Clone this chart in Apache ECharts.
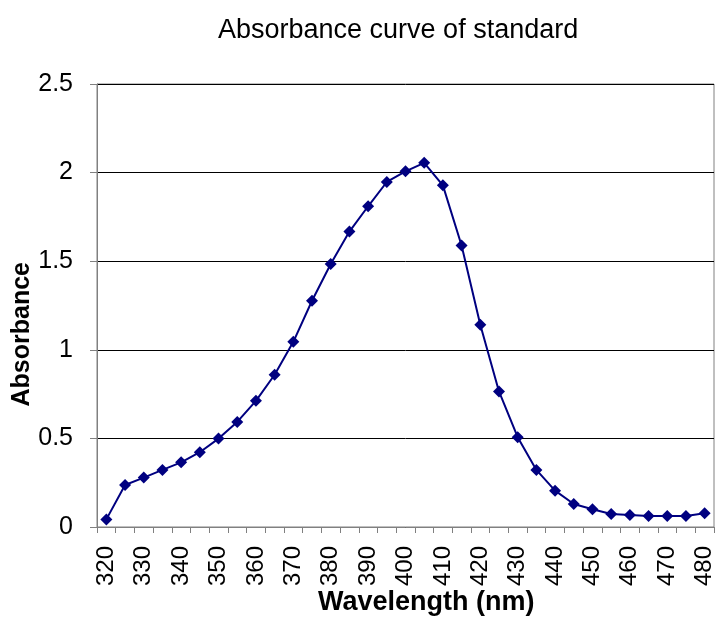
<!DOCTYPE html>
<html>
<head>
<meta charset="utf-8">
<script src="https://cdn.jsdelivr.net/npm/echarts@6/dist/echarts.min.js"></script>
<style>html,body{margin:0;padding:0;background:#fff}#c{width:719px;height:621px}</style>
</head>
<body>
<div id="c"></div>
<script>
var wavelengths = ['320','325','330','335','340','345','350','355','360','365','370','375','380','385','390','395','400','405','410','415','420','425','430','435','440','445','450','455','460','465','470','475','480'];
var absorbance = [0.043,0.237,0.279,0.322,0.365,0.422,0.499,0.593,0.712,0.859,1.045,1.277,1.484,1.667,1.81,1.947,2.007,2.055,1.928,1.589,1.141,0.765,0.507,0.322,0.205,0.13,0.1,0.073,0.068,0.062,0.062,0.062,0.077];
var yTicks = {min: 0, max: 2.5, interval: 0.5};
var titleText = 'Absorbance curve of standard';
var xName = 'Wavelength (nm)';
var yName = 'Absorbance';

var chart = echarts.init(document.getElementById('c'), null, {renderer: 'canvas'});
var font = '"Liberation Sans", Arial, sans-serif';
chart.setOption({
  animation: false,
  backgroundColor: '#fff',
  title: {text: titleText, left: 213, top: 12, textStyle: {fontFamily: font, fontSize: 27, fontWeight: 'normal', color: '#000'}},
  grid: {left: 97, right: 5, top: 84, bottom: 94, show: true, borderColor: '#808080', borderWidth: 1},
  xAxis: {
    type: 'category', data: wavelengths, boundaryGap: true,
    axisLine: {lineStyle: {color: '#808080', width: 1}},
    axisTick: {show: true, interval: 0, length: 6, lineStyle: {color: '#808080'}},
    axisLabel: {interval: 1, rotate: 90, margin: 19, fontFamily: font, fontSize: 24, color: '#000'},
    splitLine: {show: false}
  },
  yAxis: {
    type: 'value', min: yTicks.min, max: yTicks.max, interval: yTicks.interval,
    axisLine: {show: true, lineStyle: {color: '#808080', width: 1}},
    axisTick: {show: true, length: 7, lineStyle: {color: '#808080'}},
    axisLabel: {margin: 24, fontFamily: font, fontSize: 25, color: '#000'},
    splitLine: {show: true, lineStyle: {color: '#000', width: 1}}
  },
  graphic: [
    {type: 'text', left: 318, top: 589, style: {text: xName, font: 'bold 27px "Liberation Sans", Arial, sans-serif', fill: '#000'}},
    {type: 'text', rotation: Math.PI / 2, left: 10, top: 262, style: {text: yName, font: 'bold 25px "Liberation Sans", Arial, sans-serif', fill: '#000'}}
  ],
  series: [{
    type: 'line', data: absorbance,
    symbol: 'diamond', symbolSize: 12,
    lineStyle: {color: '#000080', width: 2},
    itemStyle: {color: '#000080'}
  }]
});
</script>
</body>
</html>
